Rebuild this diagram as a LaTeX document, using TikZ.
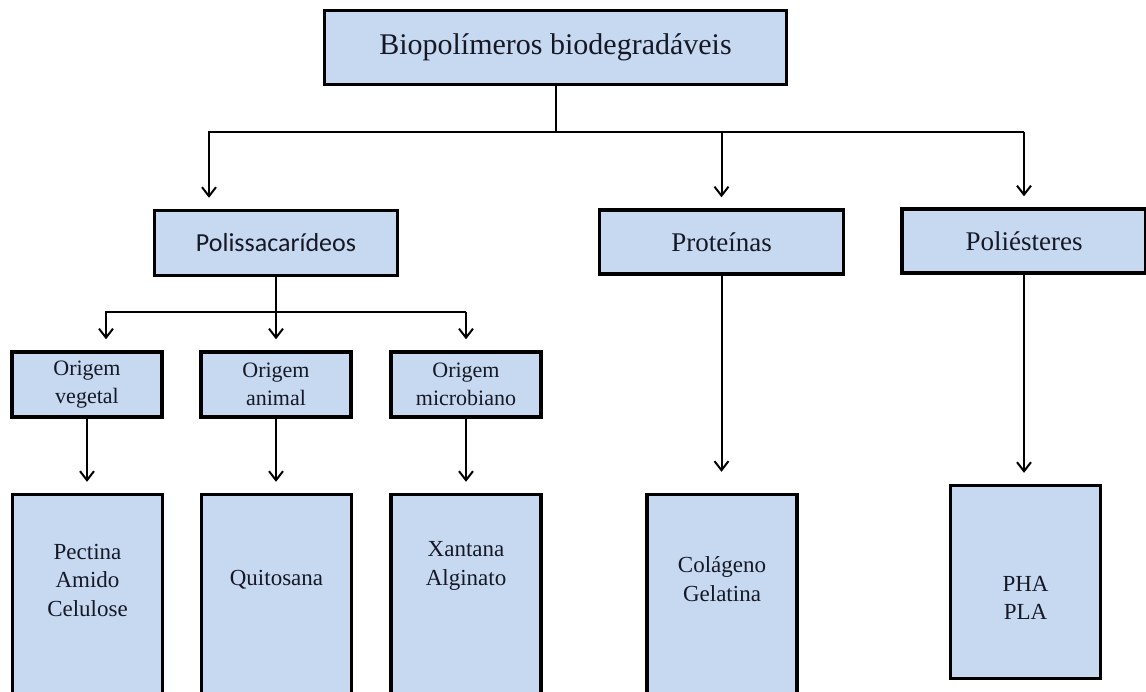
\documentclass[tikz,border=0pt]{standalone}
\usepackage{fontspec}
\setmainfont{Liberation Serif}
\newfontfamily\calibrifont{Carlito}
\usetikzlibrary{arrows.meta}
\definecolor{boxblue}{RGB}{198,217,241}
\definecolor{inkcol}{RGB}{22,24,38}

\begin{document}
\begin{tikzpicture}[x=1pt,y=-1pt,
	box/.style={draw=black, fill=boxblue, line width=3.4pt, inner sep=0pt, align=center, text=inkcol},
	catbox/.style={box, minimum width=244pt, minimum height=64pt, font=\fontsize{27}{32}\selectfont},
	origbox/.style={box, minimum width=150pt, minimum height=65pt, font=\fontsize{22}{27.5}\selectfont},
	leafbox/.style={box, minimum width=150pt},
	leaftxt/.style={align=center, text=inkcol, font=\fontsize{23}{28.5}\selectfont},
	conn/.style={line width=2pt},
	arr/.style={conn, -{Straight Barb[length=9pt,width=14pt]}, shorten >=11pt}]
	
	\useasboundingbox (0,0) rectangle (1146,691);
	\clip (0,0) rectangle (1146,691);
	
	\node[box, minimum width=462pt, minimum height=74pt, font=\fontsize{30}{36}\selectfont] (bio) at (555.5,47.5) {Biopolímeros biodegradáveis};
	
	\node[catbox, minimum width=243pt, minimum height=65pt, font=\calibrifont\fontsize{26}{31}\selectfont] (polis) at (276,243) {Polissacarídeos};
	\node[catbox] (prot) at (721.5,242) {Proteínas};
	\node[catbox] (poliest) at (1024,241) {Poliésteres};
	
	\node[origbox] (veg) at (87,384.5) {Origem\\vegetal};
	\node[origbox] (ani) at (276,384.5) {Origem\\animal};
	\node[origbox] (mic) at (466,384.5) {Origem\\microbiano};
	
	% caixas de baixo
	\node[leafbox, minimum height=250pt] (vegbox) at (87.5,619.5) {};
	\node[leafbox, minimum height=250pt] (anibox) at (276.5,619.5) {};
	\node[leafbox, minimum height=250pt] (micbox) at (466,619.5) {};
	\node[leafbox, minimum height=250pt] (colbox) at (722,619.5) {};
	\node[leafbox, minimum height=193pt] (phabox) at (1025.5,582) {};
	
	\node[leaftxt] (vegtxt) at (vegbox |- 0,580) {Pectina\\Amido\\Celulose};
	\node[leaftxt] (anitxt) at (anibox |- 0,580) {Quitosana};
	\node[leaftxt] (mictxt) at (micbox |- 0,566) {Xantana\\Alginato};
	\node[leaftxt] (coltxt) at (colbox |- 0,579) {Colágeno\\Gelatina};
	\node[leaftxt] (phatxt) at (phabox |- 0,598) {PHA\\PLA};
	
	\coordinate (busL) at (209,132);
	\coordinate (busR) at (1024,132);
	\coordinate (subL) at (106,312);
	\coordinate (subR) at (466,312);
	
	\draw[conn] (bio.south) -- (bio.south |- busL);
	\draw[arr] (busR) -- (busL) -- (busL |- polis.north);
	\draw[arr] (prot.north |- busL) -- (prot.north);
	\draw[arr] (busR) -- (poliest.north);
	
	\draw[conn] (polis.south) -- (polis.south |- subL);
	\draw[arr] (subR) -- (subL) -- (subL |- veg.north);
	\draw[arr] (ani.north |- subL) -- (ani.north);
	\draw[arr] (subR) -- (mic.north);
	
	\draw[arr] (veg.south) -- (veg.south |- vegbox.north);
	\draw[arr] (ani.south) -- (ani.south |- anibox.north);
	\draw[arr] (mic.south) -- (mic.south |- micbox.north);
	\draw[arr, shorten >=21pt] (prot.south) -- (prot.south |- colbox.north);
	\draw[arr] (poliest.south) -- (poliest.south |- phabox.north);
\end{tikzpicture}
\end{document}
